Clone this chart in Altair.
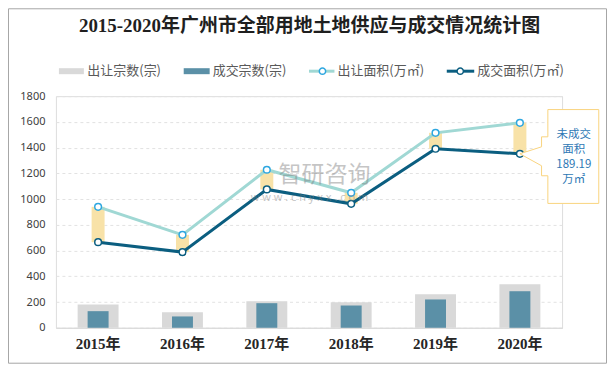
import altair as alt
import pandas as pd

years = ["2015年", "2016年", "2017年", "2018年", "2019年", "2020年"]
supply_count = [181, 121, 207, 199, 261, 339]
deal_count = [129, 88, 191, 173, 220, 284]
supply_area = [940, 722, 1228, 1049, 1515, 1593]
deal_area = [665, 588, 1075, 963, 1391, 1352]

legend_labels = ["出让宗数(宗)", "成交宗数(宗)", "出让面积(万㎡)", "成交面积(万㎡)"]
title_text = "2015-2020年广州市全部用地土地供应与成交情况统计图"
callout_lines = ["未成交", "面积", "189.19", "万㎡"]

df = pd.DataFrame({
    "year": years,
    "supply_count": supply_count,
    "deal_count": deal_count,
    "supply_area": supply_area,
    "deal_area": deal_area,
})

CJK = "Noto Sans CJK SC"
SERIF = "Liberation Serif, Noto Sans CJK SC"
C_GRAY = "#D9D9D9"
C_BLUE = "#5B90A7"
C_YEL = "#F8E2A8"
C_LT = "#A0D8D4"
C_DK = "#0B5E80"
C_PT = "#2EA7E0"

yscale = alt.Scale(domain=[0, 1800], nice=False, zero=True)
x_enc = alt.X(
    "year:N", sort=years,
    scale=alt.Scale(paddingInner=0, paddingOuter=0),
    axis=alt.Axis(title=None, labelAngle=0, labelFont=SERIF, labelFontWeight="bold",
                  labelFontSize=15, labelColor="#262626", labelPadding=9, ticks=False,
                  domainColor="#D9D9D9", grid=False),
)
y_axis = alt.Axis(title=None, values=list(range(0, 1801, 200)), format="d", labelFontSize=11,
                  labelColor="#404040", labelFont="Noto Sans", ticks=False, domain=False,
                  grid=True, gridColor="#E2E2E2", gridDash=[3, 3], labelPadding=11)


def Y(field):
    return alt.Y(field, scale=yscale, axis=y_axis)


base = alt.Chart(df)
one = pd.DataFrame({"year": ["2020年"], "v": [deal_area[-1]]})
blank = pd.DataFrame({"k": [0]})

border = alt.Chart(blank).mark_rect(fillOpacity=0, stroke="#A6A6A6", strokeWidth=1).encode(
    x=alt.value(-47.5), x2=alt.value(551.5), y=alt.value(-87.5), y2=alt.value(267.5))

bars_sup = base.mark_bar(size=41, color=C_GRAY).encode(x=x_enc, y=Y("supply_count:Q"))
bars_deal = base.mark_bar(size=21, color=C_BLUE).encode(x=x_enc, y=Y("deal_count:Q"))
gap = base.mark_bar(size=13, color=C_YEL).encode(x=x_enc, y=Y("supply_area:Q"), y2="deal_area:Q")
line_sup = base.mark_line(color=C_LT, strokeWidth=3).encode(x=x_enc, y=Y("supply_area:Q"))
line_deal = base.mark_line(color=C_DK, strokeWidth=3).encode(x=x_enc, y=Y("deal_area:Q"))
pts_sup = base.mark_point(shape="circle", size=45, fill="white", fillOpacity=1, stroke=C_PT,
                          strokeWidth=1.5, opacity=1).encode(x=x_enc, y=Y("supply_area:Q"))
pts_deal = base.mark_point(shape="circle", size=45, fill="white", fillOpacity=1, stroke=C_DK,
                           strokeWidth=1.5, opacity=1).encode(x=x_enc, y=Y("deal_area:Q"))

CALLOUT = ("M28,-44.3 L79,-44.3 L79,49.7 L28,49.7 L28,22 L21.7,22 L21.7,12 L0,0 "
           "L21.7,-7 L21.7,-17 L28,-17 Z")
callout = alt.Chart(one).mark_point(shape=CALLOUT, size=4, fill="white", fillOpacity=1,
                                    stroke="#F9D47E", strokeWidth=1, opacity=1).encode(
    x=x_enc, y=Y("v:Q"))
callout_txt = alt.Chart(one).mark_text(text=callout_lines, dx=54, dy=-19, lineHeight=15,
                                       fontSize=11.5, color="#2F79B5", font=CJK,
                                       align="center", baseline="middle").encode(
    x=x_enc, y=Y("v:Q"))

wm1 = alt.Chart(blank).mark_text(text="智研咨询", fontSize=23, font=CJK, color="#7F7F7F",
                                 opacity=0.45, align="center", baseline="middle").encode(
    x=alt.value(269), y=alt.value(79))
wm2 = alt.Chart(blank).mark_text(text="w w w . c h y x x . c o m", fontSize=11, font="Noto Sans",
                                 color="#7F7F7F", opacity=0.45, align="center",
                                 baseline="middle").encode(
    x=alt.value(254), y=alt.value(102))

title = alt.Chart(blank).mark_text(text=title_text, fontSize=19, fontWeight="bold", font=SERIF,
                                   color="#1F1F1F", align="center", baseline="middle").encode(
    x=alt.value(254), y=alt.value(-70))

LY = -25
legend_layers = []
legend_layers.append(alt.Chart(blank).mark_rect(color=C_GRAY).encode(
    x=alt.value(3), x2=alt.value(28), y=alt.value(LY - 3), y2=alt.value(LY + 3)))
legend_layers.append(alt.Chart(blank).mark_rect(color=C_BLUE).encode(
    x=alt.value(128), x2=alt.value(154), y=alt.value(LY - 3), y2=alt.value(LY + 3)))
legend_layers.append(alt.Chart(blank).mark_rule(color=C_LT, strokeWidth=3).encode(
    x=alt.value(253.5), x2=alt.value(279), y=alt.value(LY)))
legend_layers.append(alt.Chart(blank).mark_point(shape="circle", size=40, fill="white",
                                                 fillOpacity=1, stroke=C_PT, strokeWidth=1.5,
                                                 opacity=1).encode(
    x=alt.value(267), y=alt.value(LY)))
legend_layers.append(alt.Chart(blank).mark_rule(color=C_DK, strokeWidth=3).encode(
    x=alt.value(391.5), x2=alt.value(419), y=alt.value(LY)))
legend_layers.append(alt.Chart(blank).mark_point(shape="circle", size=40, fill="white",
                                                 fillOpacity=1, stroke=C_DK, strokeWidth=1.5,
                                                 opacity=1).encode(
    x=alt.value(405), y=alt.value(LY)))
for lab, lx in zip(legend_labels, [31.5, 157, 282, 422]):
    legend_layers.append(alt.Chart(blank).mark_text(text=lab, fontSize=13, font=CJK,
                                                    color="#595959", align="left",
                                                    baseline="middle").encode(
        x=alt.value(lx), y=alt.value(LY)))

chart = alt.layer(
    border, bars_sup, bars_deal, gap, line_sup, line_deal, pts_sup, pts_deal,
    callout, callout_txt, wm1, wm2, title, *legend_layers
).properties(
    width=507, height=232,
    autosize=alt.AutoSizeParams(type="none"),
    padding={"left": 48, "top": 88, "right": 45, "bottom": 36},
).configure_view(stroke=None).configure(background="white")

chart.save("out.html", embed_options={"renderer": "svg", "actions": False})
